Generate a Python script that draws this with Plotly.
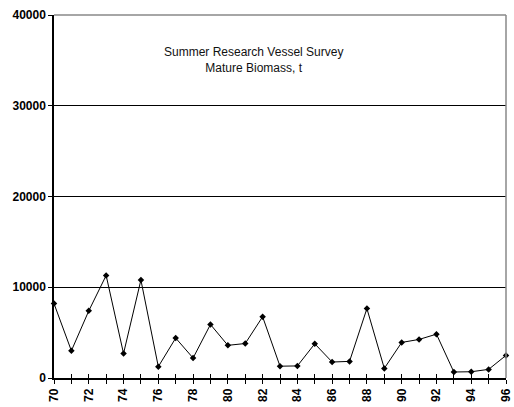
import plotly.graph_objects as go

years = list(range(70, 97))
biomass = [8200, 3000, 7400, 11300, 2700, 10800, 1250, 4400, 2200, 5900, 3600, 3800,
           6750, 1300, 1330, 3770, 1760, 1830, 7650, 1060, 3920, 4250, 4830, 660, 690, 950, 2490]
ytick_vals = [0, 10000, 20000, 30000, 40000]
ytick_text = ["0", "10000", "20000", "30000", "40000"]
xtick_vals = list(range(70, 97, 2))
xtick_text = [str(v) for v in xtick_vals]

FONT = "Liberation Sans, Arial, sans-serif"

fig = go.Figure()
fig.add_trace(go.Scatter(
    x=years, y=biomass, mode="lines+markers",
    line=dict(color="black", width=1),
    marker=dict(symbol="diamond", size=5, color="black"),
    cliponaxis=False, showlegend=False))
# invisible trace for secondary axis (inside ticks)
fig.add_trace(go.Scatter(x=[years[0]], y=[0], xaxis="x2", mode="markers",
                         marker=dict(opacity=0), showlegend=False, hoverinfo="skip"))

fig.update_layout(
    width=514, height=407,
    margin=dict(l=54, r=1, t=15, b=29),
    paper_bgcolor="white", plot_bgcolor="white",
    font=dict(family=FONT, color="black"),
    xaxis=dict(range=[70, 96], tickvals=xtick_vals, ticktext=xtick_text,
               tickangle=-90, ticks="outside", ticklen=4, tickcolor="black", tickwidth=1,
               minor=dict(dtick=1, tick0=70, ticks="outside", ticklen=4, tickcolor="black", showgrid=False),
               showgrid=False, zeroline=False, showline=True, linecolor="black", linewidth=1.5,
               ticklabeloverflow="allow",
               tickfont=dict(size=12, family=FONT, weight="bold"), mirror=False),
    xaxis2=dict(range=[70, 96], overlaying="x", anchor="y", side="bottom", dtick=1, tick0=70,
                ticks="inside", ticklen=4, tickcolor="black", showticklabels=False,
                showgrid=False, zeroline=False, showline=False),
    yaxis=dict(range=[0, 40000], tickvals=ytick_vals, ticktext=ytick_text, ticks="outside", ticklen=4,
               tickcolor="black", showgrid=True, gridcolor="black", gridwidth=1,
               zeroline=False, showline=True, linecolor="black", linewidth=1.5,
               tickfont=dict(size=12, family=FONT, weight="bold")),
    shapes=[
        dict(type="line", xref="paper", yref="paper", x0=0, x1=1, y0=1, y1=1,
             line=dict(color="#888888", width=1.5)),
        dict(type="line", xref="paper", yref="paper", x0=1, x1=1, y0=0, y1=1,
             line=dict(color="#888888", width=1.5)),
    ],
    annotations=[dict(text="Summer Research Vessel Survey<br>Mature Biomass, t",
                      xref="paper", yref="paper", x=0.442, y=0.877, showarrow=False,
                      font=dict(size=12, family=FONT, color="#111111"), align="center",
                      yanchor="middle")],
)

fig.write_html("out.html", config={"displayModeBar": False},
               post_script="document.body.style.margin='0px';document.body.style.overflow='hidden';")
